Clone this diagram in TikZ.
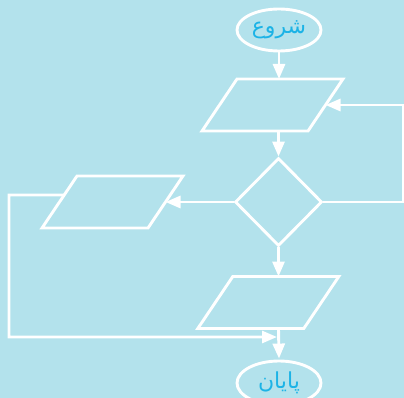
\documentclass[tikz,border=0pt]{standalone}
\usepackage{fontspec}
\usetikzlibrary{shapes.geometric,arrows.meta,calc}
\TeXXeTstate=1
\newfontfamily\arabicfont[Script=Arabic]{DejaVu Sans}
\definecolor{bgc}{HTML}{B3E2EC}
\definecolor{txtc}{HTML}{1CB3E6}
\tikzset{
  lw/.style={draw=white, line width=2.9pt},
  term/.style={lw, ellipse, minimum width=84pt, minimum height=42pt, inner sep=1pt,
     text=txtc, font=\arabicfont\fontsize{22}{24}\selectfont},
  iobox/.style={rectangle, minimum width=141pt, minimum height=52pt, inner sep=0pt, outer sep=0pt},
  dec/.style={lw, diamond, minimum width=87pt, minimum height=88pt, inner sep=2pt},
  arr/.style={draw=white, line width=2.9pt, -{Triangle[length=15pt,width=12pt]}},
  ln/.style={draw=white, line width=2.9pt, line join=miter}
}
\newcommand\pgram[1]{%
  \draw[ln] (#1.south west) -- ($(#1.north west)+(35,0)$) -- (#1.north east)
    -- ($(#1.south east)+(-35,0)$) -- cycle;
  \coordinate (#1r) at ($(#1.east)+(-17.5,0)$);
  \coordinate (#1l) at ($(#1.west)+(17.5,0)$);}
\begin{document}
\begin{tikzpicture}[x=1pt,y=-1pt]
\useasboundingbox (0,0) rectangle (404,398);
\fill[bgc] (0,0) rectangle (404,398);
\begin{scope}
\clip (0,0) rectangle (404,398);
\node[term] (start) at (279,30) {\raisebox{-2pt}{\beginR شروع\endR}};
\node[iobox] (p1) at (272.5,105) {};
\pgram{p1}
\node[dec] (d) at (278.5,202) {\strut};
\node[iobox] (p2) at (112.5,202) {};
\pgram{p2}
\node[iobox] (p3) at (268.3,302.5) {};
\pgram{p3}
\node[term, minimum height=44pt] (end) at (279,383) {\raisebox{-2pt}{\beginR پایان\endR}};
\coordinate (join) at (277,337);
\coordinate (lstart) at ($(p2.south west)!0.635!(p2.north west)+(22.2,0)$);

\draw[arr] (start.south) -- (start.south |- p1.north);
\draw[arr] (p1.south -| d.north) -- (d.north);
\draw[arr] (d.east) -- ++(80,0) |- (p1r);
\draw[arr] (d.west) -- (p2r);
\draw[arr] (lstart) -- (9,195) |- (join);
\draw[arr] (d.south) -- (d.south |- p3.north);
\draw[arr] (p3.south -| d.south) -- ($(end.north)+(0,-1)$);
\end{scope}
\end{tikzpicture}
\end{document}
